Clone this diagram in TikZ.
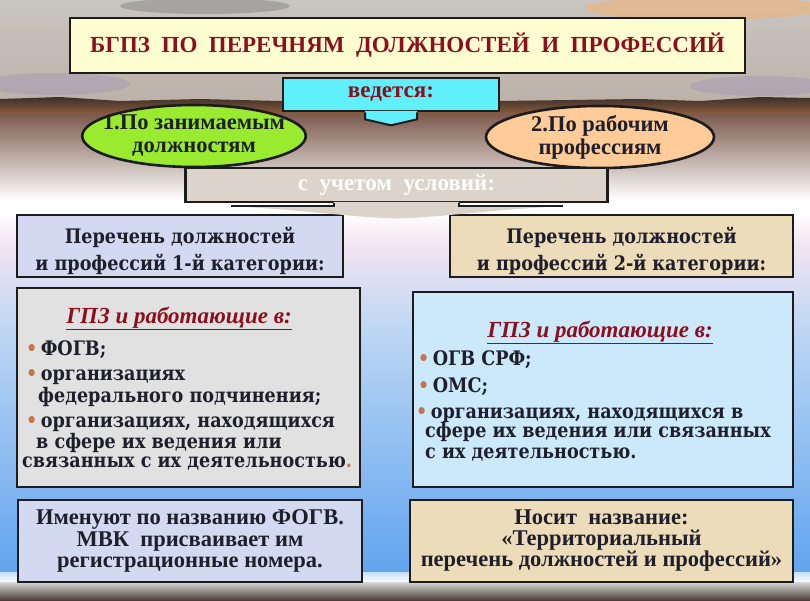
\documentclass[tikz,border=0pt]{standalone}
\usepackage{fontspec}
\setmainfont{Liberation Serif}
\newfontfamily\widefont[FakeStretch=0.88]{DejaVu Serif}
\usepackage{xcolor}
\usetikzlibrary{positioning, calc, shapes.geometric}
\definecolor{SkyTop}{HTML}{C9C5C2}
\definecolor{SkyMid}{HTML}{E4D7C6}
\definecolor{SkyLow}{HTML}{BDB2A8}
\definecolor{HorizonDark}{HTML}{3A302B}
\definecolor{HorizonRust}{HTML}{8E5C3C}
\definecolor{DuskBrown}{HTML}{7C5A4E}
\definecolor{MistPink}{HTML}{F3E4F2}
\definecolor{SeaLight}{HTML}{BCD6F4}
\definecolor{SeaBlue}{HTML}{62A4F0}
\definecolor{GroundDark}{HTML}{4C3E36}
\definecolor{TitleFill}{HTML}{FFFDD2}
\definecolor{TitleRed}{HTML}{8C0F1E}
\definecolor{LeadCyan}{HTML}{5FF0FC}
\definecolor{PostGreen}{HTML}{9AEA2F}
\definecolor{TradePeach}{HTML}{FFCB98}
\definecolor{CondTaupe}{HTML}{DCD3CA}
\definecolor{CatBlue}{HTML}{D3D9F0}
\definecolor{CatBeige}{HTML}{EDDCB9}
\definecolor{ListGray}{HTML}{E1E1E1}
\definecolor{ListCyan}{HTML}{CCE8FB}
\definecolor{InkDark}{HTML}{1F1F2C}
\definecolor{BulletOrange}{HTML}{C8744C}
\definecolor{FrameDark}{HTML}{1C1C1C}
\newcommand{\dotmark}{\textcolor{BulletOrange}{\textbullet}\,}

\begin{document}
\begin{tikzpicture}[x=1pt, y=-1pt,
  frame/.style={draw=FrameDark, line width=2.6pt},
  box/.style={frame, inner sep=0pt, align=center, text=InkDark},
  oval/.style={box, ellipse, inner xsep=-12pt, inner ysep=0pt,
    font=\bfseries\fontsize{22.5}{23}\selectfont},
  printtext/.style={font=\bfseries\fontsize{23}{22}\selectfont},
  widetext/.style={align=center, text=InkDark, font=\widefont\bfseries\fontsize{20}{27}\selectfont},
  listhead/.style={anchor=base, text=TitleRed, font=\bfseries\itshape\fontsize{23}{24}\selectfont},
  listline/.style={anchor=base west, inner sep=0pt, text=InkDark,
    font=\widefont\bfseries\fontsize{20}{24}\selectfont}]
  \useasboundingbox (0,0) rectangle (810,600);
  % sky and sea
  \shade[top color=SkyTop, middle color=SkyMid, bottom color=SkyLow] (0,0) rectangle (810,102);
  \fill[gray!70!black, opacity=0.3] (205,6) ellipse (85 and 8);
  \fill[orange!40!SkyMid, opacity=0.6] (705,8) ellipse (120 and 12);
  \fill[SkyLow!80!blue, opacity=0.35] (55,84) ellipse (75 and 11);
  \fill[SkyLow!80!blue, opacity=0.35] (760,86) ellipse (70 and 10);
  \shade[top color=HorizonDark, bottom color=HorizonRust]
    (0,99) -- (60,97) -- (120,101) -- (200,99) -- (280,101) -- (500,101)
    -- (640,99) -- (700,101) -- (760,97) -- (810,98) -- (810,114) -- (0,114) -- cycle;
  \shade[top color=DuskBrown, bottom color=white] (0,114) rectangle (810,200);
  \fill[white] (0,199) rectangle (810,213);
  \shade[top color=white, bottom color=MistPink] (0,212) rectangle (810,246);
  \shade[top color=MistPink, bottom color=SeaLight] (0,245) rectangle (810,331);
  \shade[top color=SeaLight, bottom color=SeaBlue] (0,330) rectangle (810,573);
  \shade[top color=SeaBlue!35!white, bottom color=white] (0,572) rectangle (810,583);
  \shade[top color=gray!30, bottom color=GroundDark] (0,582) rectangle (810,600);
  % title
  \node[box, fill=TitleFill, minimum width=675, minimum height=55, text=TitleRed,
    printtext] (title) at (407.5,45.5)
    {БГПЗ \ ПО \ ПЕРЕЧНЯМ \ ДОЛЖНОСТЕЙ \ И \ ПРОФЕССИЙ};
  % leading box with its tab
  \node[box, fill=LeadCyan, minimum width=216, minimum height=33, text=TitleRed,
    printtext] (lead) at (391,94.5) {ведется:};
  \fill[LeadCyan] ($(lead.south)+(-26,-1.5)$) -- ++(0,8.5) -- ($(lead.south)+(0,13)$)
    -- ($(lead.south)+(26,7)$) -- ++(0,-8.5) -- cycle;
  \draw[frame, line width=2pt] ($(lead.south)+(-26,0)$) -- ++(0,7) -- ($(lead.south)+(0,13)$)
    -- ($(lead.south)+(26,7)$) -- ++(0,-7);
  % two kinds
  \node[oval, fill=PostGreen, minimum width=222, minimum height=62] (posts)
    at (194,136) {1.По занимаемым\\должностям};
  \node[oval, fill=TradePeach, minimum width=228, minimum height=60] (trades)
    at (600,137) {2.По рабочим\\профессиям};
  % categories
  \node[box, fill=CatBlue, minimum width=326, minimum height=62] (cat1) at (180,246) {};
  \node[widetext] (cat1-text) at (cat1.center) [yshift=-5pt]
    {Перечень должностей\\и профессий 1-й категории:};
  \node[box, fill=CatBeige, minimum width=343, minimum height=62] (cat2) at (621.5,246) {};
  \node[widetext] (cat2-text) at (cat2.center) [yshift=-5pt]
    {Перечень должностей\\и профессий 2-й категории:};
  % conditions box with its arrow
  \node[box, fill=CondTaupe, minimum width=422, minimum height=34, text=white,
    printtext] (cond) at (396.5,185) {с \ учетом \ условий:};
  \fill[CondTaupe] ($(cond.south)+(-63,-1.5)$) -- ++(0,4.5) -- ++(-103,0)
    .. controls +(70,3) and +(-36,0) .. ($(cond.south)+(0,15)$)
    .. controls +(36,0) and +(-70,3) .. ($(cond.south)+(166,3)$)
    -- ++(-104,0) -- ++(0,-4.5) -- cycle;
  \draw[frame, line width=2pt] ($(cond.south)+(-63,0)$) -- ++(0,3) -- ++(-103,0);
  \draw[frame, line width=2pt] ($(cond.south)+(62,0)$) -- ++(0,3) -- ++(104,0);
  % lists
  \node[box, fill=ListGray, minimum width=343, minimum height=199] (list1) at (188.5,387.5) {};
  \node[listhead] (head1) at (179,323) {\underline{ГПЗ и работающие в:}};
  \foreach \x/\y/\txt [count=\i] in {26/355/{\dotmark ФОГВ;},
      26/380/{\dotmark организациях},
      38/402/{федерального подчинения;},
      26/427/{\dotmark организациях, находящихся},
      36/448/{в сфере их ведения или},
      22/467/{связанных с их деятельностью\textcolor{BulletOrange}{.}}}
    \node[listline] (left-\i) at (\x,\y) {\txt};
  \node[box, fill=ListCyan, minimum width=380, minimum height=195] (list2) at (603,389.5) {};
  \node[listhead] (head2) at (600,337) {\underline{ГПЗ и работающие в:}};
  \foreach \x/\y/\txt [count=\i] in {418/365/{\dotmark ОГВ СРФ;},
      418/392/{\dotmark ОМС;},
      416/418/{\dotmark организациях, находящихся в},
      425/437/{сфере их ведения или связанных},
      425/458/{с их деятельностью.}}
    \node[listline] (right-\i) at (\x,\y) {\txt};
  % names
  \node[box, fill=CatBlue, minimum width=344, minimum height=82,
    font=\bfseries\fontsize{22.5}{21.5}\selectfont] (name1)
    at (190,541) {Именуют по названию ФОГВ.\\МВК \ присваивает им\\регистрационные номера.};
  \node[box, fill=CatBeige, minimum width=383, minimum height=82,
    font=\bfseries\fontsize{22.5}{21}\selectfont] (name2)
    at (601.5,541) {Носит \ название:\\«Территориальный\\перечень должностей и профессий»};
\end{tikzpicture}
\end{document}
